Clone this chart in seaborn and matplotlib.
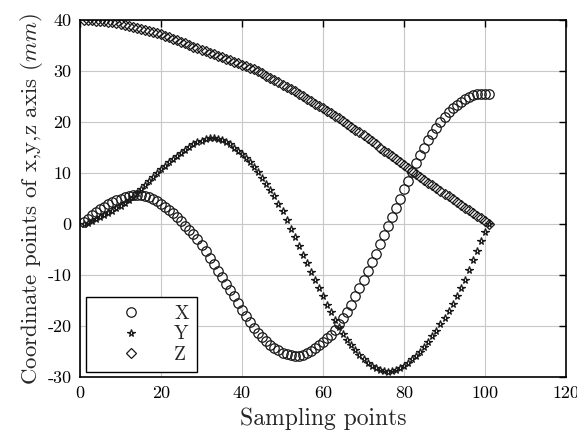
import numpy as np
import pandas as pd
import matplotlib
matplotlib.use("Agg")
import matplotlib.pyplot as plt
import seaborn as sns

# ---- data ----
sample_points = list(range(1, 102))

x_coord = [0.3, 1.0, 1.7, 2.3, 2.9, 3.4, 3.9, 4.3, 4.7, 5.0,
           5.3, 5.5, 5.6, 5.65, 5.6, 5.4, 5.2, 4.9, 4.5, 4.0,
           3.4, 2.8, 2.1, 1.3, 0.5, -0.3, -1.1, -2.0, -3.0, -4.1,
           -5.3, -6.6, -7.9, -9.2, -10.4, -11.7, -12.9, -14.2, -15.5, -16.8,
           -18.0, -19.2, -20.3, -21.3, -22.2, -23.0, -23.7, -24.3, -24.8, -25.2,
           -25.5, -25.7, -25.8, -25.8, -25.6, -25.3, -24.9, -24.4, -23.8, -23.1,
           -22.4, -21.7, -20.8, -19.7, -18.5, -17.2, -15.8, -14.2, -12.6, -10.9,
           -9.2, -7.5, -5.8, -4.0, -2.2, -0.4, 1.4, 3.2, 5.0, 6.8,
           8.5, 10.2, 11.9, 13.5, 15.0, 16.4, 17.7, 18.9, 20.0, 21.0,
           21.9, 22.7, 23.4, 24.0, 24.5, 24.9, 25.2, 25.4, 25.5, 25.5,
           25.4]

y_coord = [0.0, 0.2, 0.5, 0.9, 1.3, 1.7, 2.1, 2.6, 3.1, 3.6,
           4.1, 4.7, 5.3, 6.0, 6.8, 7.6, 8.4, 9.2, 10.0, 10.7,
           11.4, 12.1, 12.8, 13.4, 14.0, 14.6, 15.1, 15.6, 16.0, 16.3,
           16.6, 16.8, 16.8, 16.7, 16.5, 16.1, 15.6, 15.0, 14.4, 13.7,
           13.0, 12.1, 11.1, 10.1, 9.0, 7.9, 6.7, 5.4, 4.0, 2.5,
           0.8, -0.9, -2.6, -4.3, -6.0, -7.7, -9.4, -11.0, -12.6, -14.2,
           -15.8, -17.3, -18.8, -20.2, -21.5, -22.7, -23.8, -24.8, -25.7, -26.5,
           -27.2, -27.8, -28.3, -28.7, -28.9, -29.0, -28.9, -28.7, -28.3, -27.8,
           -27.2, -26.5, -25.8, -25.0, -24.1, -23.1, -22.0, -20.9, -19.7, -18.4,
           -17.0, -15.6, -14.1, -12.5, -10.9, -9.0, -7.1, -5.2, -3.4, -1.6,
           0.0]

z_coord = [40.0, 40.0, 40.0, 39.9, 39.9, 39.8, 39.7, 39.6, 39.4, 39.3,
           39.1, 38.9, 38.7, 38.5, 38.3, 38.1, 37.9, 37.7, 37.4, 37.2,
           36.9, 36.6, 36.3, 36.0, 35.7, 35.4, 35.1, 34.8, 34.5, 34.2,
           33.9, 33.6, 33.3, 33.0, 32.7, 32.4, 32.1, 31.8, 31.5, 31.2,
           30.9, 30.6, 30.3, 30.0, 29.6, 29.1, 28.7, 28.2, 27.8, 27.3,
           26.9, 26.4, 26.0, 25.5, 25.1, 24.6, 24.1, 23.6, 23.2, 22.7,
           22.2, 21.7, 21.2, 20.7, 20.2, 19.7, 19.1, 18.5, 18.0, 17.4,
           16.8, 16.2, 15.6, 15.0, 14.4, 13.9, 13.3, 12.7, 12.1, 11.5,
           10.9, 10.3, 9.8, 9.2, 8.7, 8.1, 7.6, 7.0, 6.5, 5.9,
           5.4, 4.9, 4.3, 3.8, 3.2, 2.7, 2.1, 1.6, 1.1, 0.5,
           0.0]

series_labels = ["X", "Y", "Z"]
x_ticks = [0, 20, 40, 60, 80, 100, 120]
y_ticks = [-30, -20, -10, 0, 10, 20, 30, 40]

# ---- style ----
sns.set_style("white")
plt.rcParams["font.family"] = ["cmr10", "DejaVu Serif"]
plt.rcParams["mathtext.fontset"] = "cm"
plt.rcParams["axes.unicode_minus"] = False
plt.rcParams["axes.formatter.use_mathtext"] = False

fig = plt.figure(figsize=(5.77, 4.37), dpi=100)
ax = fig.add_axes([80 / 577, 1 - 377 / 437, 486 / 577, 357 / 437])

styles = {
    "X": dict(marker="o", markersize=6.8),
    "Y": dict(marker="*", markersize=5.6),
    "Z": dict(marker="D", markersize=5.2),
}
series = {"X": x_coord, "Y": y_coord, "Z": z_coord}

for lab in series_labels:
    df = pd.DataFrame({"t": sample_points, "v": series[lab]})
    sns.lineplot(data=df, x="t", y="v", ax=ax, estimator=None, sort=False,
                 linestyle="", markerfacecolor="none", markeredgecolor="#1a1a1a",
                 markeredgewidth=0.9, label=lab, **styles[lab])

ax.set_xlim(0, 120)
ax.set_ylim(-30, 40)
ax.set_xticks(x_ticks)
ax.set_yticks(y_ticks)
ax.set_xticklabels([str(t) for t in x_ticks])
ax.set_yticklabels([str(t) for t in y_ticks])
ax.tick_params(direction="in", length=5, width=1.0, top=True, right=True,
               labelsize=13, colors="black", pad=6)
ax.grid(True, color="#c8c8c8", linewidth=0.8)
for sp in ax.spines.values():
    sp.set_visible(True)
    sp.set_color("black")
    sp.set_linewidth(1.2)

ax.set_xlabel("Sampling points", fontsize=17, labelpad=5)
ax.set_ylabel("Coordinate points of x,y,z axis $(mm)$", fontsize=16.5, labelpad=2)

leg = ax.legend(loc="lower left", bbox_to_anchor=(0.012, 0.014), borderaxespad=0,
                fontsize=14, numpoints=1, handlelength=3.8, handletextpad=0.35,
                borderpad=0.4, labelspacing=0.15, frameon=True, fancybox=False)
leg.get_frame().set_edgecolor("black")
leg.get_frame().set_linewidth(1.0)
leg.get_frame().set_alpha(1)

fig.savefig("out.png", dpi=100)
